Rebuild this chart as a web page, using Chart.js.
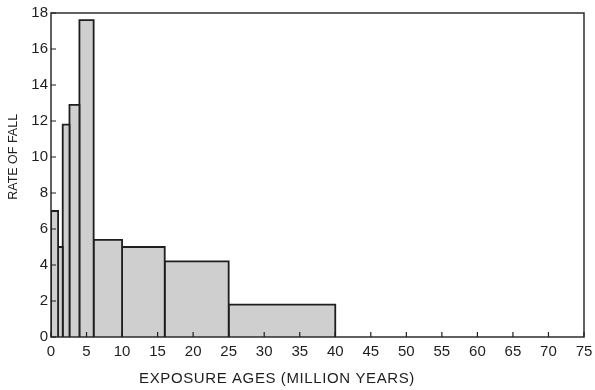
<!DOCTYPE html>
<html>
<head>
<meta charset="utf-8">
<script src="https://cdn.jsdelivr.net/npm/chart.js@4/dist/chart.umd.min.js"></script>
<style>
  html, body { margin: 0; padding: 0; background: #ffffff; }
  canvas { display: block; }
</style>
</head>
<body>
<canvas id="chart" width="595" height="390"></canvas>
<script>
// Histogram of meteorite exposure ages: each bin spans [binStart, binEnd) million years
const binStart = [0, 1, 1.65, 2.6, 4, 6, 10, 16, 25];
const binEnd   = [1, 1.65, 2.6, 4, 6, 10, 16, 25, 40];
const rateOfFall = [7.0, 5.0, 11.8, 12.9, 17.6, 5.4, 5.0, 4.2, 1.8];

const xTickValues = [0, 5, 10, 15, 20, 25, 30, 35, 40, 45, 50, 55, 60, 65, 70, 75];
const yTickValues = [0, 2, 4, 6, 8, 10, 12, 14, 16, 18];

const xTitle = 'EXPOSURE AGES (MILLION YEARS)';
const yTitle = 'RATE OF FALL';

const INK = '#1e1e1e';
const FILL = '#cfcfcf';
const FONT = '"Liberation Sans", Arial, sans-serif';

// each bin becomes a closed outline filled down to the axis
const datasets = binStart.map((lo, i) => ({
  type: 'line',
  data: [
    { x: lo, y: 0 },
    { x: lo, y: rateOfFall[i] },
    { x: binEnd[i], y: rateOfFall[i] },
    { x: binEnd[i], y: 0 }
  ],
  borderColor: INK,
  borderWidth: 1.8,
  backgroundColor: FILL,
  fill: 'origin',
  pointRadius: 0,
  tension: 0
}));

// frame, inward tick marks and the axis titles
const framePlugin = {
  id: 'frame',
  afterDraw(chart) {
    const { ctx, chartArea: a, scales } = chart;
    ctx.save();
    ctx.strokeStyle = INK;
    ctx.lineWidth = 1.4;
    ctx.strokeRect(a.left, a.top, a.right - a.left, a.bottom - a.top);

    ctx.lineWidth = 1.2;
    ctx.beginPath();
    xTickValues.forEach(v => {
      const px = scales.x.getPixelForValue(v);
      ctx.moveTo(px, a.bottom);
      ctx.lineTo(px, a.bottom - 5);
    });
    yTickValues.forEach(v => {
      const py = scales.y.getPixelForValue(v);
      ctx.moveTo(a.left, py);
      ctx.lineTo(a.left + 5, py);
    });
    ctx.stroke();

    ctx.fillStyle = INK;
    ctx.font = '15px ' + FONT;
    ctx.letterSpacing = '0.6px';
    ctx.textAlign = 'center';
    ctx.textBaseline = 'alphabetic';
    ctx.fillText(xTitle, a.left + (a.right - a.left) * 0.424, 383);

    ctx.font = '12.5px ' + FONT;
    ctx.letterSpacing = '0px';
    ctx.translate(17, a.top + (a.bottom - a.top) * 0.444);
    ctx.rotate(-Math.PI / 2);
    ctx.fillText(yTitle, 0, 0);
    ctx.restore();
  }
};

new Chart(document.getElementById('chart'), {
  type: 'line',
  data: { datasets },
  options: {
    responsive: false,
    animation: false,
    devicePixelRatio: 1,
    layout: { padding: { top: 13, right: 11, left: 0, bottom: 0 } },
    plugins: { legend: { display: false }, tooltip: { enabled: false } },
    scales: {
      x: {
        type: 'linear',
        min: 0,
        max: 75,
        afterBuildTicks(scale) { scale.ticks = xTickValues.map(v => ({ value: v })); },
        afterFit(scale) { scale.height = 53; scale.paddingLeft = 0; scale.paddingRight = 0; },
        grid: { display: false, drawTicks: false },
        border: { display: false },
        ticks: { color: INK, font: { family: FONT, size: 15 }, padding: 6, maxRotation: 0, autoSkip: false }
      },
      y: {
        type: 'linear',
        min: 0,
        max: 18,
        afterBuildTicks(scale) { scale.ticks = yTickValues.map(v => ({ value: v })); },
        afterFit(scale) { scale.width = 51; },
        grid: { display: false, drawTicks: false },
        border: { display: false },
        ticks: { color: INK, font: { family: FONT, size: 15 }, padding: 3, autoSkip: false }
      }
    }
  },
  plugins: [framePlugin]
});
</script>
</body>
</html>
